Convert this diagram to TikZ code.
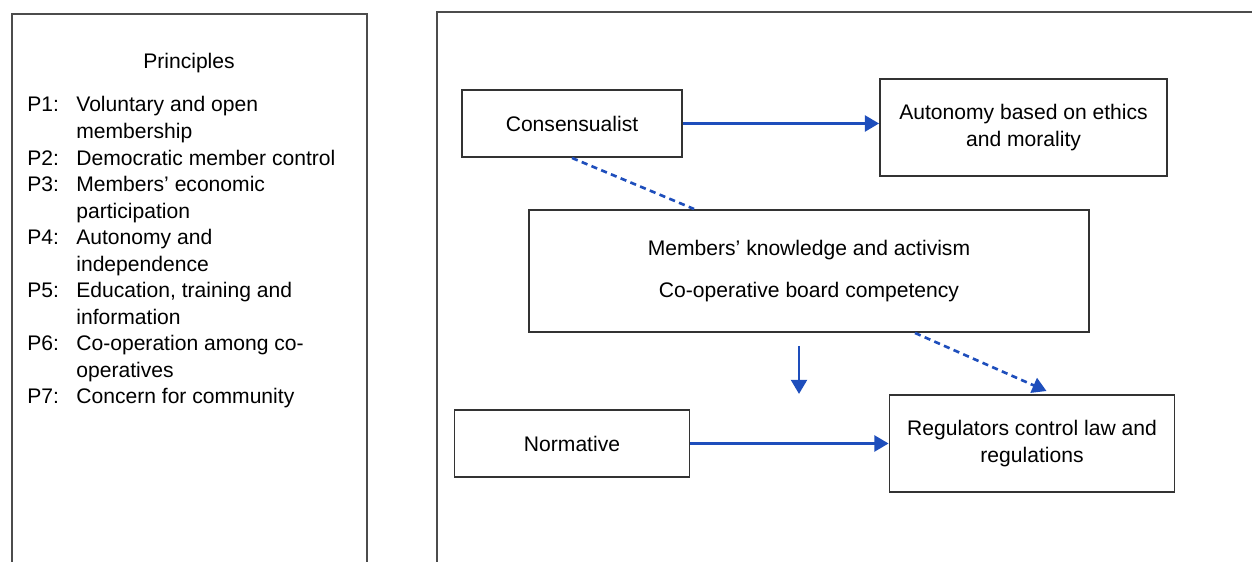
\documentclass[tikz,border=0pt]{standalone}
\usepackage{fontspec}
\setmainfont{Liberation Sans}
\usetikzlibrary{positioning,arrows.meta}
\definecolor{linkblue}{RGB}{30,78,188}

\begin{document}
\begin{tikzpicture}[
    font=\fontsize{12}{15}\selectfont,
    node distance=2cm,
    on grid,
    frame/.style={
        draw=black!70,
        line width=1.2pt
    },
    box/.style={
        draw=black!80,
        line width=1.1pt,
        align=center,
        inner sep=0pt
    },
    flow/.style={
        draw=linkblue,
        line width=1.5pt,
        -{Triangle[length=8pt,width=9pt]}
    },
    link/.style={
        draw=linkblue,
        line width=1.5pt,
        dash pattern=on 3.5pt off 2.5pt
    }
]
    \useasboundingbox (0,0) rectangle (25.04,11.24);

    % outer frames, cut off at the page edges
    \draw[frame] (0.24,-0.5) -- (0.24,10.96) -- (7.34,10.96) -- (7.34,-0.5);
    \draw[frame] (8.74,-0.5) -- (8.74,11.0) -- (25.5,11.0);

    % principles panel
    \node (title) at (3.78,9.97) {Principles};
    \node[font=\fontsize{12}{15.1}\selectfont,anchor=base west,inner sep=0pt] (list) at (0.54,9.0) {
        \begin{tabular}[t]{@{}p{0.98cm}@{}l@{}}
        P1: & Voluntary and open \\
            & membership \\
        P2: & Democratic member control \\
        P3: & Members’ economic \\
            & participation \\
        P4: & Autonomy and \\
            & independence \\
        P5: & Education, training and \\
            & information \\
        P6: & Co-operation among co- \\
            & operatives \\
        P7: & Concern for community
        \end{tabular}
    };

    % nodes
    \node[box,minimum width=4.4cm,minimum height=1.34cm] (cons) at (11.44,8.77) {Consensualist};
    \node[box,minimum width=5.74cm,minimum height=1.94cm] (auto) at (20.47,8.69) {Autonomy based on ethics\\and morality};
    \node[box,minimum width=11.2cm,minimum height=2.44cm] (members) at (16.18,5.82)
        {Members’ knowledge and activism\\[9pt]Co-operative board competency};
    \node[box,minimum width=4.7cm,minimum height=1.34cm] (norm) [below=6.4cm of cons] {Normative};
    \node[box,minimum width=5.7cm,minimum height=1.94cm] (reg) [right=9.2cm of norm] {Regulators control law and\\regulations};

    % free arrow under the middle box
    \coordinate (drop top) at ([xshift=-0.2cm,yshift=-0.26cm]members.south);
    \coordinate (drop end) at ([yshift=-0.96cm]drop top);

    % connectors
    \draw[flow] (cons) -- (cons -| auto.west);
    \draw[link] (cons.south) -- ([xshift=3.32cm]members.north west);
    \draw[flow] (drop top) -- (drop end);
    \draw[link,-{Triangle[length=8pt,width=9pt]}] ([xshift=2.12cm]members.south) -- ([xshift=0.29cm,yshift=0.06cm]reg.north);
    \draw[flow] (norm) -- (norm -| reg.west);
\end{tikzpicture}
\end{document}
